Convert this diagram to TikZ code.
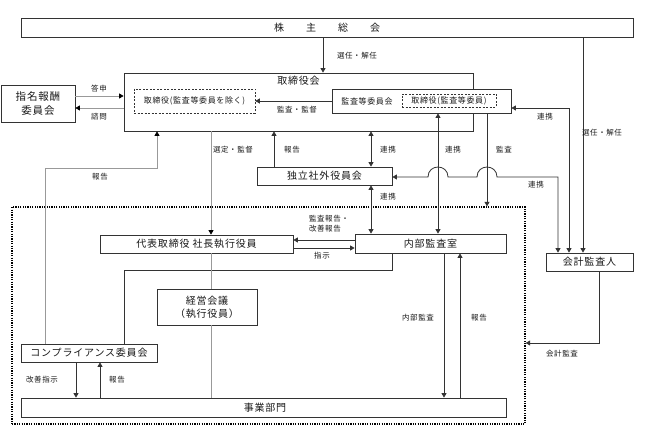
\documentclass[tikz,border=0pt]{standalone}
\usepackage{fontspec}
\newfontfamily\jp[LetterSpace=8]{Noto Sans CJK JP}
\usetikzlibrary{arrows.meta}
\definecolor{ln}{HTML}{333333}
\definecolor{lg}{HTML}{999999}
\definecolor{tx}{HTML}{1A1A1A}
\begin{document}
\begin{tikzpicture}[x=1pt,y=-1pt,
  box/.style={draw=ln, line width=0.8pt, fill=white, text=tx, inner sep=0pt,
    font=\jp\fontsize{10}{13}\selectfont, align=center},
  dbox/.style={draw=ln, line width=0.7pt, dash pattern=on 2pt off 1.5pt, fill=white, text=tx,
    inner sep=0pt, font=\jp\fontsize{8}{10}\selectfont},
  txt/.style={text=tx, inner sep=0pt, font=\jp\fontsize{10}{13}\selectfont},
  lab/.style={text=tx, inner sep=0pt, font=\jp\fontsize{7.5}{9.5}\selectfont},
  con/.style={draw=ln, line width=0.8pt},
  gcon/.style={draw=lg, line width=0.8pt},
  tip/.style={-{Triangle[width=5pt,length=4.5pt]}},
  gtip/.style={-{Triangle[width=5pt,length=4.5pt,color=black]}},
  tips/.style={{Triangle[width=5pt,length=4.5pt]}-{Triangle[width=5pt,length=4.5pt]}},
  grpst/.style={draw=black, line width=1.3pt, dash pattern=on 1.2pt off 1.2pt, inner sep=0pt}
]
\useasboundingbox[fill=white] (0,0) rectangle (653,435);

% group frame
\node[grpst, minimum width=513pt, minimum height=217pt] (grp) at (268.5,315.5) {};

% nodes
\node[box, minimum width=612pt, minimum height=19pt] (kabu) at (327,27.5)
  {株\hspace{22pt}主\hspace{22pt}総\hspace{22pt}会};
\node[box, minimum width=349pt, minimum height=58pt] (tori) at (298.5,102) {};
\node[txt] (toriT) at (298.5,81) {取締役会};
\node[dbox, minimum width=121pt, minimum height=24pt] (torinozoku) at (194.5,101) {取締役(監査等委員を除く)};
\node[box, minimum width=179pt, minimum height=24pt] (kansaiin) at (421.5,101) {};
\node[txt, font=\jp\fontsize{8}{10}\selectfont] (kansaiinT) at (367,101) {監査等委員会};
\node[dbox, minimum width=94pt, minimum height=13pt] (torikansa) at (449,100.5) {取締役(監査等委員)};
\node[box, minimum width=74pt, minimum height=37pt, font=\jp\fontsize{10.5}{13.5}\selectfont] (shimei) at (38,103.5) {指名報酬\\委員会};
\node[box, minimum width=135pt, minimum height=18pt] (dokuritsu) at (324.5,176) {独立社外役員会};
\node[box, minimum width=193pt, minimum height=18pt] (daihyo) at (196.5,244) {代表取締役 社長執行役員};
\node[box, minimum width=151pt, minimum height=19pt] (naibu) at (430.5,243.5) {内部監査室};
\node[box, minimum width=87pt, minimum height=18pt] (kaikei) at (589.5,262) {会計監査人};
\node[box, minimum width=100pt, minimum height=36pt] (keiei) at (207,307) {経営会議\\（執行役員）};
\node[box, minimum width=136pt, minimum height=18pt] (comp) at (89,353) {コンプライアンス委員会};
\node[box, minimum width=485pt, minimum height=19pt] (jigyo) at (263.5,407.5) {\hspace{3pt}事業部門};

% connectors
\draw[con,tip] (kabu.south -| 323,0) -- (tori.north -| 323,0);
\draw[gcon,gtip] (shimei.east |- 0,96) -- (tori.west |- 0,96);
\draw[gcon,gtip] (tori.west |- 0,108) -- (shimei.east |- 0,108);
\draw[con,tip] (kansaiin.west |- 0,101) -- (torinozoku.east |- 0,101);
\draw[con,tips] (kaikei.north -| 569,0) -- (569,108) -- (kansaiin.east |- 0,108);
\draw[con,tip] (kabu.south -| 583,0) -- (kaikei.north -| 583,0);
\draw[con,tips] (kaikei.north -| 558,0) -- (558,177) -- (497,177)
  .. controls (497,163.7) and (477,163.7) .. (477,177) -- (448,177)
  .. controls (448,163.7) and (428,163.7) .. (428,177) -- (dokuritsu.east |- 0,177);
\draw[con,tips] (kansaiin.south -| 438,0) -- (naibu.north -| 438,0);
\draw[con,tip] (kansaiin.south -| 487,0) -- (grp.north -| 487,0);
\draw[con,tips] (tori.south -| 371,0) -- (dokuritsu.north -| 371,0);
\draw[con,tips] (dokuritsu.south -| 371,0) -- (naibu.north -| 371,0);
\draw[con,tip] (dokuritsu.north -| 274,0) -- (tori.south -| 274,0);
\draw[gcon,gtip] (tori.south -| 211,0) -- (daihyo.north -| 211,0);
\draw[gcon,gtip] (comp.north -| 45,0) -- (45,168) -- (157,168) -- (tori.south -| 157,0);
\draw[con,tip] (naibu.west |- 0,240) -- (daihyo.east |- 0,240);
\draw[con,tip] (daihyo.east |- 0,248) -- (naibu.west |- 0,248);
\draw[con] (naibu.south -| 392,0) -- (392,270) -- (124,270) -- (comp.north -| 124,0);
\draw[gcon] (daihyo.south -| 211,0) -- (keiei.north -| 211,0);
\draw[gcon] (keiei.south -| 211,0) -- (jigyo.north -| 211,0);
\draw[con,tip] (comp.south -| 76,0) -- (jigyo.north -| 76,0);
\draw[con,tip] (jigyo.north -| 100,0) -- (comp.south -| 100,0);
\draw[con,tip] (naibu.south -| 444,0) -- (jigyo.north -| 444,0);
\draw[con,tip] (jigyo.north -| 460,0) -- (naibu.south -| 460,0);
\draw[con,tip] (kaikei.south -| 599,0) -- (599,343) -- (grp.east |- 0,343);

% labels
\node[lab] (l1) at (357,56) {選任・解任};
\node[lab] (l2) at (99,89) {答申};
\node[lab] (l3) at (99,117) {諮問};
\node[lab] (l4) at (297,110) {監査・監督};
\node[lab] (l5) at (545,117) {連携};
\node[lab] (l6) at (602,133) {選任・解任};
\node[lab] (l7) at (233,150) {選定・監督};
\node[lab] (l8) at (292,150) {報告};
\node[lab] (l9) at (388,150) {連携};
\node[lab] (l10) at (453,150) {連携};
\node[lab] (l11) at (504,150) {監査};
\node[lab] (l12) at (100,177) {報告};
\node[lab] (l13) at (536,185) {連携};
\node[lab] (l14) at (388,197) {連携};
\node[lab, align=left] (l15) at (329,223.5) {監査報告・\\改善報告};
\node[lab] (l16) at (322,256) {指示};
\node[lab] (l17) at (418,318) {内部監査};
\node[lab] (l18) at (479,318) {報告};
\node[lab] (l19) at (562,354) {会計監査};
\node[lab] (l20) at (42,380) {改善指示};
\node[lab] (l21) at (117,380) {報告};
\end{tikzpicture}
\end{document}
